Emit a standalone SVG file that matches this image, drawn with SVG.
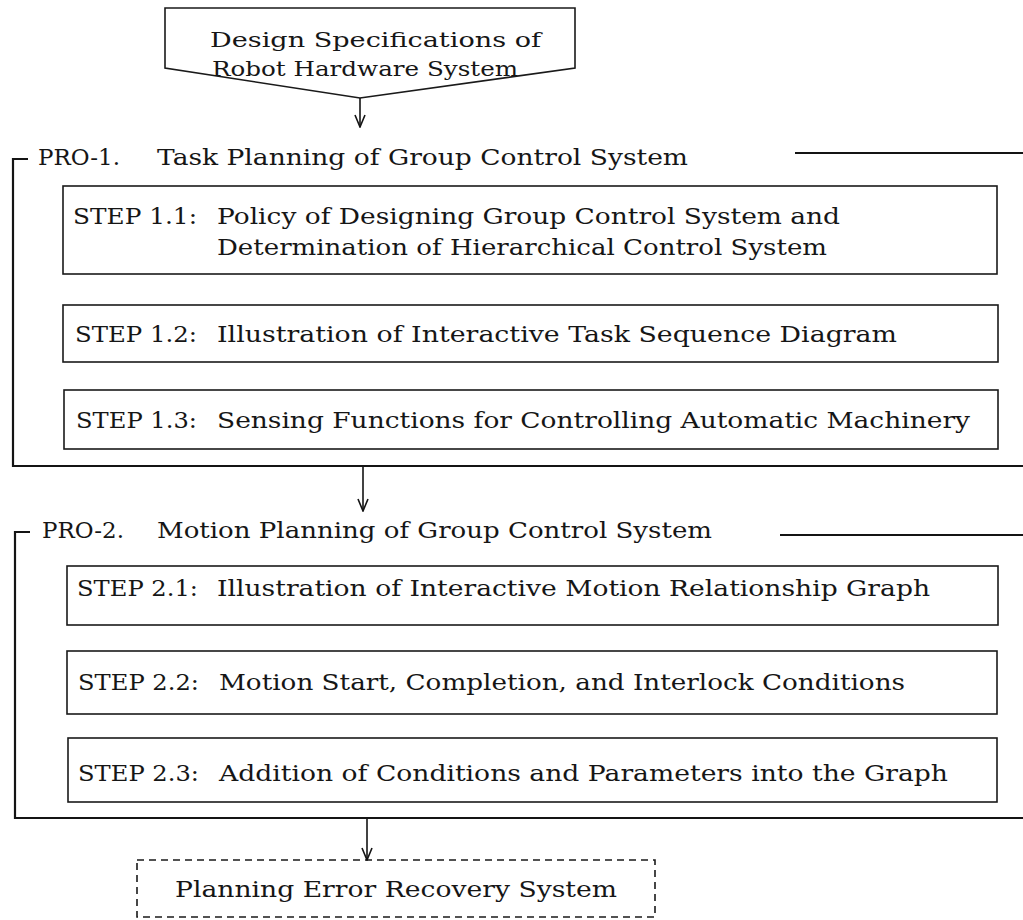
<svg xmlns="http://www.w3.org/2000/svg" width="1023" height="920" viewBox="0 0 1023 920">
<style>
text{font-family:"DejaVu Serif","Liberation Serif",serif;fill:#161616;font-size:22px}
.top{font-size:20.5px}
.box{fill:none;stroke:#1a1a1a;stroke-width:1.6}
.frame{fill:none;stroke:#141414;stroke-width:2.2}
.conn{fill:none;stroke:#141414;stroke-width:1.6}
.dash{fill:none;stroke:#1a1a1a;stroke-width:1.6;stroke-dasharray:7 5}
</style>
<defs>
<marker id="arr" viewBox="0 0 14 12" refX="13" refY="6" markerWidth="14" markerHeight="12" markerUnits="userSpaceOnUse" orient="auto">
<path d="M1,1 L13,6 L1,11" fill="none" stroke="#141414" stroke-width="1.6"/>
</marker>
</defs>
<rect width="1023" height="920" fill="#ffffff"/>

<g id="design-spec">
<polygon class="box" points="165,8 575,8 575,68 360,98 165,68"/>
<text class="top" x="210" y="47" textLength="331" lengthAdjust="spacingAndGlyphs">Design Specifications of</text>
<text class="top" x="212" y="76" textLength="306" lengthAdjust="spacingAndGlyphs">Robot Hardware System</text>
</g>

<g id="pro1">
<polyline class="frame" points="28,159 13,159 13,466 1023,466"/>
<line class="frame" x1="795" y1="153" x2="1023" y2="153"/>
<text x="38" y="165" textLength="82" lengthAdjust="spacingAndGlyphs">PRO-1.</text>
<text x="157" y="165" textLength="531" lengthAdjust="spacingAndGlyphs">Task Planning of Group Control System</text>
</g>

<g id="step11">
<rect class="box" x="63" y="186" width="934" height="88"/>
<text x="73" y="224" textLength="124" lengthAdjust="spacingAndGlyphs">STEP 1.1:</text>
<text x="217" y="224" textLength="623" lengthAdjust="spacingAndGlyphs">Policy of Designing Group Control System and</text>
<text x="217" y="255" textLength="610" lengthAdjust="spacingAndGlyphs">Determination of Hierarchical Control System</text>
</g>

<g id="step12">
<rect class="box" x="63" y="305" width="935" height="57"/>
<text x="75" y="342" textLength="122" lengthAdjust="spacingAndGlyphs">STEP 1.2:</text>
<text x="217" y="342" textLength="680" lengthAdjust="spacingAndGlyphs">Illustration of Interactive Task Sequence Diagram</text>
</g>

<g id="step13">
<rect class="box" x="64" y="390" width="934" height="59"/>
<text x="76" y="428" textLength="121" lengthAdjust="spacingAndGlyphs">STEP 1.3:</text>
<text x="217" y="428" textLength="753" lengthAdjust="spacingAndGlyphs">Sensing Functions for Controlling Automatic Machinery</text>
</g>

<g id="pro2">
<polyline class="frame" points="30,532 15,532 15,818 1023,818"/>
<line class="frame" x1="780" y1="535" x2="1023" y2="535"/>
<text x="42" y="538" textLength="82" lengthAdjust="spacingAndGlyphs">PRO-2.</text>
<text x="157" y="538" textLength="555" lengthAdjust="spacingAndGlyphs">Motion Planning of Group Control System</text>
</g>

<g id="step21">
<rect class="box" x="67" y="566" width="931" height="59"/>
<text x="77" y="596" textLength="121" lengthAdjust="spacingAndGlyphs">STEP 2.1:</text>
<text x="217" y="596" textLength="713" lengthAdjust="spacingAndGlyphs">Illustration of Interactive Motion Relationship Graph</text>
</g>

<g id="step22">
<rect class="box" x="67" y="651" width="930" height="63"/>
<text x="78" y="690" textLength="121" lengthAdjust="spacingAndGlyphs">STEP 2.2:</text>
<text x="219" y="690" textLength="686" lengthAdjust="spacingAndGlyphs">Motion Start, Completion, and Interlock Conditions</text>
</g>

<g id="step23">
<rect class="box" x="68" y="738" width="929" height="64"/>
<text x="78" y="781" textLength="121" lengthAdjust="spacingAndGlyphs">STEP 2.3:</text>
<text x="219" y="781" textLength="729" lengthAdjust="spacingAndGlyphs">Addition of Conditions and Parameters into the Graph</text>
</g>

<g id="error-recovery">
<rect class="dash" x="137" y="860" width="518" height="57"/>
<text x="175" y="897" textLength="442" lengthAdjust="spacingAndGlyphs">Planning Error Recovery System</text>
</g>

<g id="connectors">
<line class="conn" x1="360" y1="98" x2="360" y2="127" marker-end="url(#arr)"/>
<line class="conn" x1="363" y1="467" x2="363" y2="511" marker-end="url(#arr)"/>
<line class="conn" x1="367" y1="819" x2="367" y2="860" marker-end="url(#arr)"/>
</g>
</svg>
